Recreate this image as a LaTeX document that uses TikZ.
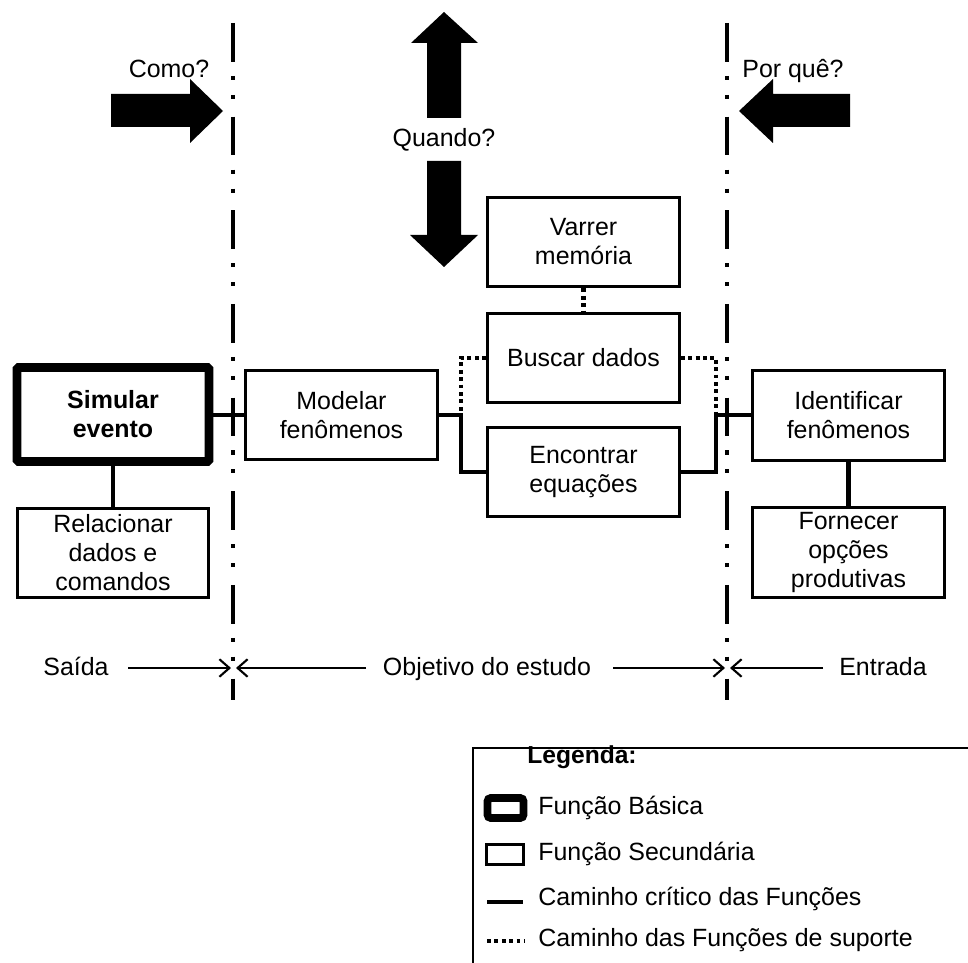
\documentclass[tikz,border=0pt]{standalone}
\usepackage{fontspec}
\setmainfont{Liberation Sans}
\usetikzlibrary{arrows.meta}

\tikzset{
  fbox/.style={draw, line width=1.7pt, minimum width=3.84cm, minimum height=1.8cm,
    align=center, inner sep=0pt, font=\fontsize{14.2}{16.5}\selectfont},
  basicbox/.style={fbox, line width=5.1pt, rounded corners=1pt, minimum height=1.88cm,
    font=\fontsize{14.2}{16.5}\selectfont\bfseries},
  critical/.style={line width=2.4pt},
  support/.style={line width=2.3pt, dash pattern=on 2.2pt off 2pt},
  boundary/.style={line width=2.3pt,
    dash pattern=on 22.1pt off 8pt on 2.3pt off 8.5pt on 2.3pt off 10.1pt},
  bigarrow/.style={fill=black, draw=none},
  lbl/.style={inner sep=0pt, font=\fontsize{14.2}{16.5}\selectfont},
  barb/.style={line width=1.2pt, -{Straight Barb[length=5.7pt, width=10pt, line width=1.2pt]}},
}

\begin{document}
\begin{tikzpicture}[x=0.02cm, y=-0.02cm]
  \useasboundingbox (0,0) rectangle (968,963);

  % boundary lines of the study scope
  \coordinate (bl-top) at (233,23);
  \coordinate (bl-bot) at (233,700);
  \coordinate (br-top) at (727,23);
  \coordinate (br-bot) at (727,700);
  \draw[boundary] (bl-top) -- (bl-bot);
  \draw[boundary] (br-top) -- (br-bot);

  % question arrows
  \fill[bigarrow] (111,94) -- (190,94) -- (190,79) -- (223,111) -- (190,143) -- (190,127) -- (111,127) -- cycle;
  \fill[bigarrow] (850,94) -- (773,94) -- (773,79) -- (739,111) -- (773,143) -- (773,127) -- (850,127) -- cycle;
  \fill[bigarrow] (427,118) -- (427,43) -- (411,43) -- (444,12) -- (478,43) -- (461,43) -- (461,118) -- cycle;
  \fill[bigarrow] (427,161) -- (427,235) -- (410,235) -- (444,267) -- (478,235) -- (461,235) -- (461,161) -- cycle;
  \node[lbl, anchor=base] (como) at (169,78) {Como?};
  \node[lbl, anchor=base] (porque) at (793,78) {Por quê?};
  \node[lbl, anchor=base] (quando) at (444,147) {Quando?};

  % functions
  \node[basicbox] (sim) at (113,414.5) {Simular\\evento};
  \node[fbox] (rel) at (113,553) {Relacionar\\dados e\\comandos};
  \node[fbox] (mod) at (341.5,415) {Modelar\\fenômenos};
  \node[fbox] (var) at (583.5,242) {Varrer\\memória};
  \node[fbox] (bus) at (583.5,358) {Buscar dados};
  \node[fbox] (enc) at (583.5,472) {Encontrar\\equações};
  \node[fbox] (ide) at (848.5,415.5) {Identificar\\fenômenos};
  \node[fbox] (for) at (848.5,552.5) {Fornecer\\opções\\produtivas};

  % junctions of the critical path
  \coordinate (jl) at (461,415);
  \coordinate (jr) at (716,415);

  % critical path
  \draw[critical] (sim.east |- jl) -- (mod.west |- jl);
  \draw[critical] (sim.south) -- (rel.north);
  \draw[critical] (mod.east |- jl) -- (jl) |- (enc.west);
  \draw[critical] (enc.east) -| (jr) -- (ide.west |- jr);
  \draw[critical] (ide.south) -- (for.north);

  % supporting functions
  \draw[support] (var.south) -- (bus.north);
  \draw[support] (bus.west) -| (jl);
  \draw[support] (bus.east) -| (jr);

  % scope labels
  \node[lbl, anchor=base] (said) at (76,675) {Saída};
  \node[lbl, anchor=base] (obj) at (487,675) {Objetivo do estudo};
  \node[lbl, anchor=base] (entr) at (883,675) {Entrada};
  \coordinate (a1s) at (128,668);
  \coordinate (a1e) at (231,668);
  \coordinate (a2s) at (366,668);
  \coordinate (a2e) at (236,668);
  \coordinate (a3s) at (613,668);
  \coordinate (a3e) at (725,668);
  \coordinate (a4s) at (823,668);
  \coordinate (a4e) at (730,668);
  \draw[barb] (a1s) -- (a1e);
  \draw[barb] (a2s) -- (a2e);
  \draw[barb] (a3s) -- (a3e);
  \draw[barb] (a4s) -- (a4e);

  % legend
  \draw[line width=1.7pt] (975,748) -- (473,748) -- (473,975);
  \node[lbl, anchor=base west, font=\fontsize{14}{16}\selectfont\bfseries] (legt) at (527,763) {Legenda:};
  \draw[line width=4.5pt, rounded corners=2pt] (487.5,798) rectangle (523.5,818);
  \draw[line width=1.7pt] (486.5,844.5) rectangle (523.5,864.5);
  \draw[critical] (487,902) -- (523,902);
  \draw[support] (487,941) -- (525,941);
  \node[lbl, anchor=base west] (lg1) at (538,814) {Função Básica};
  \node[lbl, anchor=base west] (lg2) at (538,860) {Função Secundária};
  \node[lbl, anchor=base west] (lg3) at (538,905) {Caminho crítico das Funções};
  \node[lbl, anchor=base west] (lg4) at (538,946) {Caminho das Funções de suporte};
\end{tikzpicture}
\end{document}
